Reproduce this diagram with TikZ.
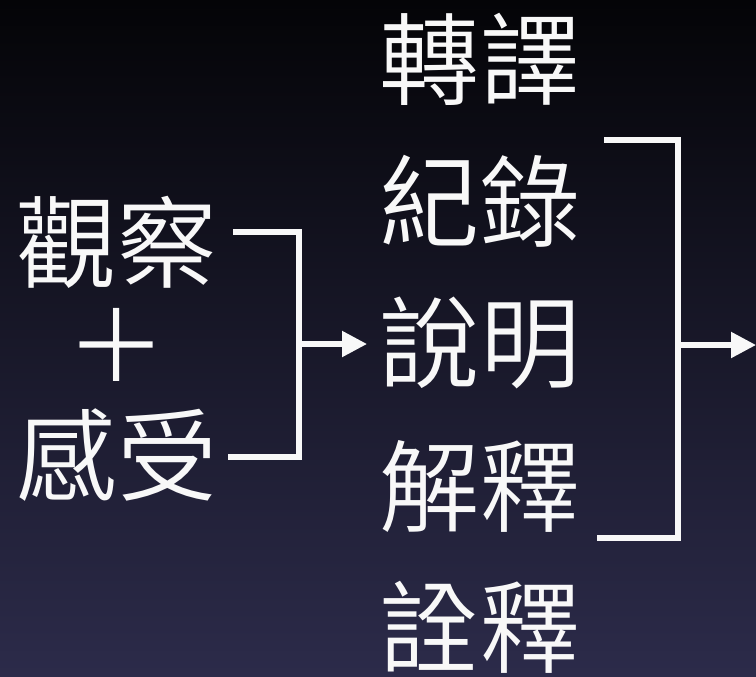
\documentclass[tikz,border=0pt]{standalone}
\usepackage{fontspec}
\newfontfamily\cjk{Noto Sans CJK TC DemiLight}
\usetikzlibrary{arrows.meta,positioning}

\definecolor{skytop}{RGB}{4,4,7}
\definecolor{skybottom}{RGB}{44,43,74}
\definecolor{chalk}{RGB}{248,248,248}

\tikzset{
  word/.style={text=chalk,inner sep=0pt,font=\cjk\fontsize{57}{60}\selectfont},
  bracket/.style={draw=chalk,line width=3pt},
  pointer/.style={draw=chalk,line width=3pt,-{Triangle[length=0.5cm,width=0.5cm]}}
}

\begin{document}
\begin{tikzpicture}[x=0.02cm,y=-0.02cm]
        \shade[top color=skytop,bottom color=skybottom] (0,0) rectangle (756,676);
        \useasboundingbox (0,0) rectangle (756,676);
        % left column
        \node[word] (guancha) at (117,242) {觀察};
        \node[word] (plus) at (117,345) {＋};
        \node[word] (ganshou) at (117,455) {感受};
        % middle column
        \node[word] (zhuanyi) at (480,59) {轉譯};
        \node[word] (jilu) at (480,201) {紀錄};
        \node[word] (shuoming) at (480,343) {說明};
        \node[word] (jieshi) at (480,486) {解釋};
        \node[word] (quanshi) at (480,627) {詮釋};
        % brackets
        \coordinate (ltop) at (233,232);
        \coordinate (ljoin) at (299,344);
        \coordinate (lbot) at (228,457);
        \coordinate (ltip) at (367,344);
        \draw[bracket] (ltop) -| (ljoin) |- (lbot);
        \draw[pointer] (ljoin) -- (ltip);
        \coordinate (rtop) at (604,140);
        \coordinate (rjoin) at (678,345);
        \coordinate (rbot) at (597,538);
        \coordinate (rtip) at (756,345);
        \draw[bracket] (rtop) -| (rjoin) |- (rbot);
        \draw[pointer] (rjoin) -- (rtip);
\end{tikzpicture}
\end{document}
